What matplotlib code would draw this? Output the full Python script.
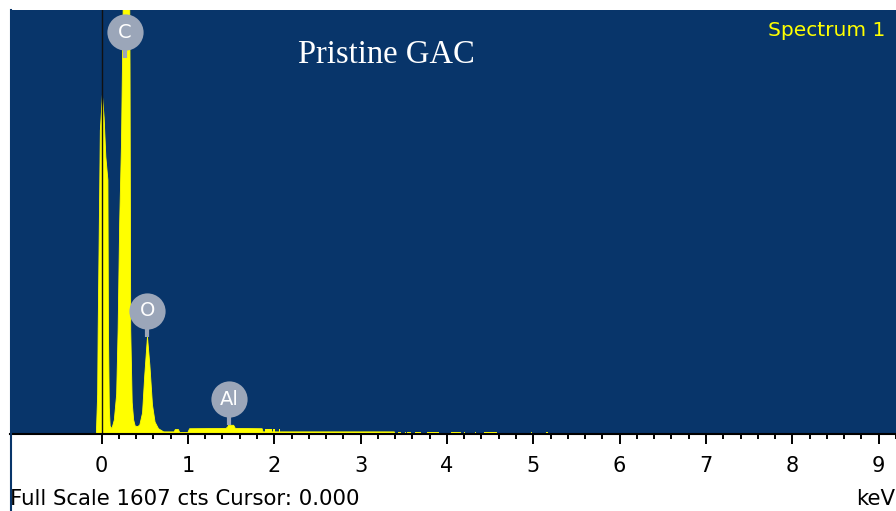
import numpy as np
import matplotlib
matplotlib.use("Agg")
import matplotlib.pyplot as plt
from matplotlib.lines import Line2D

# spectrum (keV, counts)
energy_kev = [-0.06, -0.045, -0.039, -0.02, -0.014, 0.01, 0.03, 0.05, 0.074, 0.08, 0.09, 0.10, 0.12,
              0.148, 0.175, 0.192, 0.21, 0.231, 0.25, 0.28, 0.318, 0.33, 0.338, 0.355, 0.372, 0.39, 0.42,
              0.443, 0.475, 0.50, 0.532, 0.56, 0.59, 0.62, 0.66,
              0.72, 0.84, 0.855, 0.89, 0.905, 1.0, 1.02, 1.44, 1.46, 1.47, 1.53, 1.55,
              1.86, 1.87, 3.39, 3.40]
counts = [0, 150, 394, 962, 1150, 1285, 1200, 1050, 962, 394, 100, 30, 20,
          53, 150, 394, 800, 1100, 1600, 6000, 2200, 1400, 394, 120, 53, 30, 28,
          34, 80, 220, 369, 260, 110, 45, 20,
          8, 8, 17, 17, 6, 6, 20, 21, 26, 33, 33, 21,
          20, 8, 8, 0]

# scattered noise counts beyond the main trace
dash_start = [1.89, 1.99, 2.05, 3.43, 3.51, 3.54, 3.63, 3.77, 4.05, 4.20, 4.33, 4.43, 4.97, 5.15]
dash_end = [1.97, 2.01, 2.07, 3.47, 3.53, 3.58, 3.70, 3.91, 4.16, 4.21, 4.34, 4.58, 4.99, 5.17]
dash_counts = [19, 19, 19, 8, 8, 8, 8, 8, 8, 8, 8, 8, 8, 8]

# element labels
elements = ['C', 'O', 'Al']
label_kev = [0.27, 0.532, 1.48]
label_top = [1425, 369, 33]

navy = '#08356a'
yellow = '#ffff00'
badge = '#9ba6b9'
full_scale = 1607
ui_font = 'DejaVu Sans'

fig = plt.figure(figsize=(8.96, 5.11), dpi=100)
ax = fig.add_axes([10 / 896, 77 / 511, 886 / 896, 424 / 511])
ax.set_facecolor(navy)

ax.fill_between(energy_kev, counts, 0, color=yellow, lw=0.6, ec=yellow)
widths = np.array(dash_end) - np.array(dash_start)
ax.bar(dash_start, dash_counts, width=widths, align='edge', color=yellow, lw=0)

# cursor
ax.axvline(0.0, color='#111111', lw=1.0)

# peak badges
lift = 98
ax.vlines(label_kev, label_top, np.array(label_top) + lift, color=badge, lw=3)
ax.scatter(label_kev, np.array(label_top) + lift, s=680, color=badge, zorder=5, lw=0)
for el, e, t in zip(elements, label_kev, label_top):
    ax.text(e, t + lift, el, color='white', fontsize=14, ha='center', va='center',
            family=ui_font, zorder=6)

ax.set_xlim(-1.06, 9.185)
ax.set_ylim(0, full_scale)
for s in ['top', 'left', 'right']:
    ax.spines[s].set_visible(False)
ax.spines['bottom'].set_color('black')
ax.spines['bottom'].set_linewidth(1.5)
ax.set_yticks([])
ax.set_xticks(range(0, 10))
ax.set_xticks(np.arange(0, 9.21, 0.2), minor=True)
ax.tick_params(axis='x', which='major', direction='out', length=7.5, width=1.4,
               labelsize=15, pad=8)
ax.tick_params(axis='x', which='minor', direction='out', length=3.8, width=1.4)
for lab in ax.get_xticklabels():
    lab.set_family(ui_font)

ax.text(0.4244, 0.875, 'Pristine GAC', transform=ax.transAxes, color='white',
        fontsize=23.5, family='Liberation Serif', ha='center', va='baseline')
ax.text(0.9876, 0.938, 'Spectrum 1', transform=ax.transAxes, color=yellow,
        fontsize=14.5, family=ui_font, ha='right', va='baseline')

fig.text(10 / 896, 6 / 511, 'Full Scale %d cts Cursor: 0.000' % full_scale,
         fontsize=15.3, family=ui_font, va='baseline', ha='left')
fig.text(895 / 896, 6 / 511, 'keV', fontsize=15.3, family=ui_font,
         va='baseline', ha='right')
fig.add_artist(Line2D([11 / 896, 11 / 896], [0, 501 / 511], color=navy, lw=1.5))

fig.savefig('out.png', dpi=100)
